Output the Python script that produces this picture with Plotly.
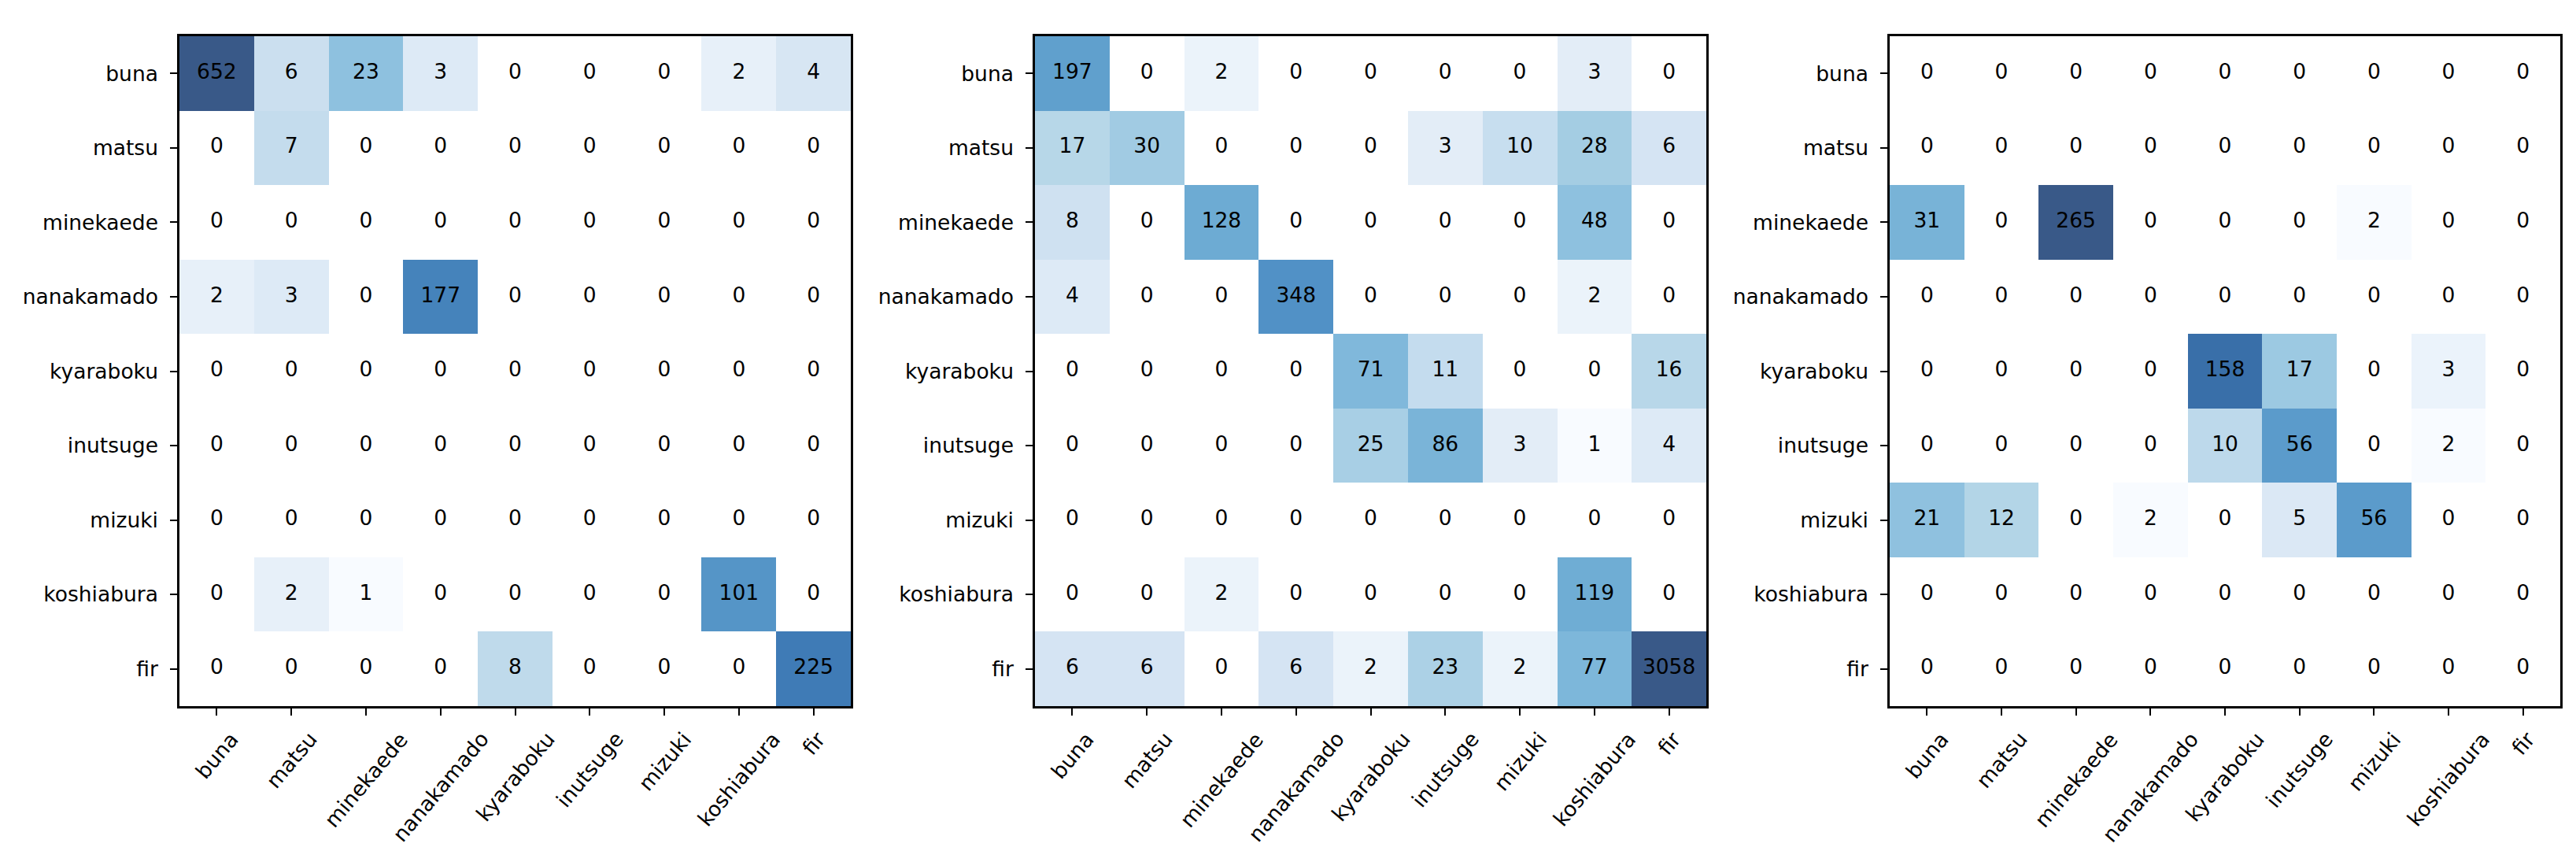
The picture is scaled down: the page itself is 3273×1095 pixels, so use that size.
import math
import plotly.graph_objects as go

labels = ["buna", "matsu", "minekaede", "nanakamado", "kyaraboku",
          "inutsuge", "mizuki", "koshiabura", "fir"]

cm_left = [
    [652, 6, 23, 3, 0, 0, 0, 2, 4],
    [0, 7, 0, 0, 0, 0, 0, 0, 0],
    [0, 0, 0, 0, 0, 0, 0, 0, 0],
    [2, 3, 0, 177, 0, 0, 0, 0, 0],
    [0, 0, 0, 0, 0, 0, 0, 0, 0],
    [0, 0, 0, 0, 0, 0, 0, 0, 0],
    [0, 0, 0, 0, 0, 0, 0, 0, 0],
    [0, 2, 1, 0, 0, 0, 0, 101, 0],
    [0, 0, 0, 0, 8, 0, 0, 0, 225],
]

cm_middle = [
    [197, 0, 2, 0, 0, 0, 0, 3, 0],
    [17, 30, 0, 0, 0, 3, 10, 28, 6],
    [8, 0, 128, 0, 0, 0, 0, 48, 0],
    [4, 0, 0, 348, 0, 0, 0, 2, 0],
    [0, 0, 0, 0, 71, 11, 0, 0, 16],
    [0, 0, 0, 0, 25, 86, 3, 1, 4],
    [0, 0, 0, 0, 0, 0, 0, 0, 0],
    [0, 0, 2, 0, 0, 0, 0, 119, 0],
    [6, 6, 0, 6, 2, 23, 2, 77, 3058],
]

cm_right = [
    [0, 0, 0, 0, 0, 0, 0, 0, 0],
    [0, 0, 0, 0, 0, 0, 0, 0, 0],
    [31, 0, 265, 0, 0, 0, 2, 0, 0],
    [0, 0, 0, 0, 0, 0, 0, 0, 0],
    [0, 0, 0, 0, 158, 17, 0, 3, 0],
    [0, 0, 0, 0, 10, 56, 0, 2, 0],
    [21, 12, 0, 2, 0, 5, 56, 0, 0],
    [0, 0, 0, 0, 0, 0, 0, 0, 0],
    [0, 0, 0, 0, 0, 0, 0, 0, 0],
]

matrices = [cm_left, cm_middle, cm_right]

blues = ["#f7fbff", "#deebf7", "#c6dbef", "#9ecae1", "#6baed6",
         "#4292c6", "#2171b5", "#08519c", "#08306b"]
colorscale = [[i / 8, c] for i, c in enumerate(blues)]

W, H = 3273, 1095
x_px = [(220, 1073), (1307, 2160), (2393, 3245)]
y_top, y_bot = 38, 889
FONT = "DejaVu Sans"
FS = 26.5

fig = go.Figure()
annotations = []
layout_axes = {}

for k, cm in enumerate(matrices):
    n = "" if k == 0 else str(k + 1)
    xa, ya = "x" + n, "y" + n
    pos = [v for row in cm for v in row if v > 0]
    zmin, zmax = math.log10(min(pos)), math.log10(max(pos))
    z = [[math.log10(v) if v > 0 else None for v in row] for row in cm]
    fig.add_trace(go.Heatmap(
        z=z, x=labels, y=labels, colorscale=colorscale, zmin=zmin, zmax=zmax,
        showscale=False, opacity=0.8, xaxis=xa, yaxis=ya, hoverinfo="skip"))
    tx, ty, tt = [], [], []
    for i, row in enumerate(cm):
        for j, v in enumerate(row):
            tx.append(labels[j]); ty.append(labels[i]); tt.append(str(v))
    fig.add_trace(go.Scatter(
        x=tx, y=ty, text=tt, mode="text", xaxis=xa, yaxis=ya,
        textfont=dict(family=FONT, size=FS, color="black"),
        showlegend=False, hoverinfo="skip"))

    x0, x1 = x_px[k]
    common = dict(showline=True, mirror=True, linecolor="black", linewidth=2.5,
                  ticks="outside", ticklen=9, tickwidth=2, tickcolor="black",
                  showgrid=False, zeroline=False, type="category",
                  tickfont=dict(family=FONT, size=FS, color="black"))
    layout_axes["xaxis" + n] = dict(
        domain=[x0 / W, x1 / W], anchor=ya, range=[-0.5, 8.5],
        showticklabels=False, **common)
    layout_axes["yaxis" + n] = dict(
        domain=[1 - y_bot / H, 1 - y_top / H], anchor=xa, range=[8.5, -0.5],
        ticklabelstandoff=10, **common)
    for lab in labels:
        annotations.append(dict(
            x=lab, y=1 - y_bot / H, xref=xa, yref="paper", text=lab,
            showarrow=False, textangle=-50, xanchor="center", yanchor="top",
            yshift=-24, font=dict(family=FONT, size=FS, color="black")))

fig.update_layout(
    width=W, height=H, autosize=False,
    margin=dict(l=0, r=0, t=0, b=0),
    paper_bgcolor="white", plot_bgcolor="white",
    annotations=annotations, **layout_axes)

fig.write_html("out.html")
